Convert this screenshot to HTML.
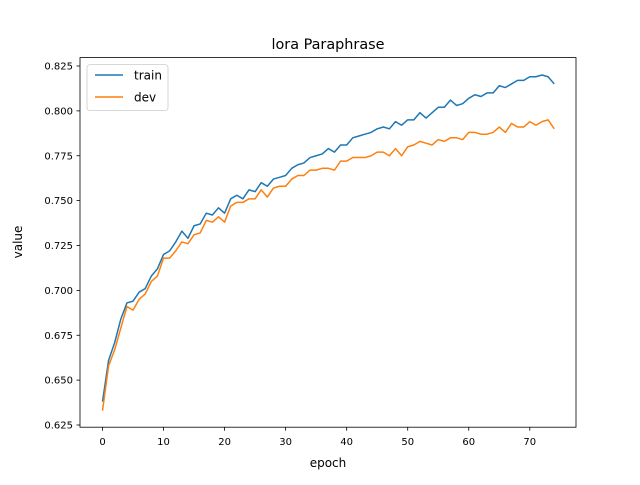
<!DOCTYPE html>
<html><head><meta charset="utf-8"><style>
body{margin:0;background:#fff;}
svg text{font-family:"DejaVu Sans","Liberation Sans",sans-serif;fill:#000;}
</style></head><body>
<svg id="chart" width="640" height="480" xmlns="http://www.w3.org/2000/svg">
<rect width="640" height="480" fill="#fff"/>
<text x="328" y="49" font-size="14.4" text-anchor="middle">lora Paraphrase</text>
<g id="axes"></g>
<g id="series"></g>
<rect x="80" y="57.6" width="496" height="369.6" fill="none" stroke="#000" stroke-width="0.8"/>
<text x="328" y="467" font-size="12" text-anchor="middle">epoch</text>
<text transform="translate(22,242) rotate(-90)" font-size="12" text-anchor="middle">value</text>
<g>
<rect x="87" y="64.6" width="81" height="46" rx="3" fill="#fff" fill-opacity="0.8" stroke="#ccc" stroke-width="0.8"/>
<g>
<line x1="95" y1="75" x2="123" y2="75" stroke="#1f77b4" stroke-width="1.5"/>
<text x="134" y="79.5" font-size="12">train</text></g>
<g>
<line x1="95" y1="97" x2="123" y2="97" stroke="#ff7f0e" stroke-width="1.5"/>
<text x="134" y="101.5" font-size="12">dev</text></g>
</g>
</svg>
<script>
const xTicks=[0,10,20,30,40,50,60,70];
const yTicks=[0.625,0.650,0.675,0.700,0.725,0.750,0.775,0.800,0.825];
const yTickLabels=["0.625","0.650","0.675","0.700","0.725","0.750","0.775","0.800","0.825"];
const train=[0.638,0.661,0.671,0.684,0.693,0.694,0.699,0.701,0.708,0.712,0.720,0.722,0.727,0.733,0.729,0.736,0.737,0.743,0.742,0.746,0.743,0.751,0.753,0.751,0.756,0.755,0.760,0.758,0.762,0.763,0.764,0.768,0.770,0.771,0.774,0.775,0.776,0.779,0.777,0.781,0.781,0.785,0.786,0.787,0.788,0.790,0.791,0.790,0.794,0.792,0.795,0.795,0.799,0.796,0.799,0.802,0.802,0.806,0.803,0.804,0.807,0.809,0.808,0.810,0.810,0.814,0.813,0.815,0.817,0.817,0.819,0.819,0.820,0.819,0.815];
const dev=[0.633,0.658,0.667,0.679,0.691,0.689,0.695,0.698,0.705,0.708,0.718,0.718,0.722,0.727,0.726,0.731,0.732,0.739,0.738,0.741,0.738,0.747,0.749,0.749,0.751,0.751,0.756,0.752,0.757,0.758,0.758,0.762,0.764,0.764,0.767,0.767,0.768,0.768,0.767,0.772,0.772,0.774,0.774,0.774,0.775,0.777,0.777,0.775,0.779,0.775,0.780,0.781,0.783,0.782,0.781,0.784,0.783,0.785,0.785,0.784,0.788,0.788,0.787,0.787,0.788,0.791,0.788,0.793,0.791,0.791,0.794,0.792,0.794,0.795,0.790];
const NS="http://www.w3.org/2000/svg";
function xs(v){return 102.5+v*(529.8-102.5)/70;}
function ys(v){return 425-(v-0.625)*(425-66)/0.2;}
const axes=document.getElementById('axes');
xTicks.forEach(t=>{
 const l=document.createElementNS(NS,'line');
 l.setAttribute('x1',xs(t));l.setAttribute('x2',xs(t));l.setAttribute('y1',427.2);l.setAttribute('y2',430.7);
 l.setAttribute('stroke','#000');l.setAttribute('stroke-width','0.8');
 
 
 axes.appendChild(l);
 const tx=document.createElementNS(NS,'text');
 tx.setAttribute('x',xs(t));tx.setAttribute('y',445);tx.setAttribute('font-size','10');tx.setAttribute('text-anchor','middle');
 tx.textContent=t;
 
 
 axes.appendChild(tx);
});
yTicks.forEach((t,i)=>{
 const l=document.createElementNS(NS,'line');
 l.setAttribute('x1',76.5);l.setAttribute('x2',80);l.setAttribute('y1',ys(t));l.setAttribute('y2',ys(t));
 l.setAttribute('stroke','#000');l.setAttribute('stroke-width','0.8');
 
 
 axes.appendChild(l);
 const tx=document.createElementNS(NS,'text');
 tx.setAttribute('x',73);tx.setAttribute('y',ys(t)+3.6);tx.setAttribute('font-size','10');tx.setAttribute('text-anchor','end');
 tx.textContent=yTickLabels[i];
 
 
 axes.appendChild(tx);
});
const ser=document.getElementById('series');
[[train,'#1f77b4','train-line'],[dev,'#ff7f0e','dev-line']].forEach(([d,c,n])=>{
 const p=document.createElementNS(NS,'polyline');
 p.setAttribute('points',d.map((v,i)=>xs(i).toFixed(2)+','+ys(v).toFixed(2)).join(' '));
 p.setAttribute('fill','none');p.setAttribute('stroke',c);p.setAttribute('stroke-width','1.5');p.setAttribute('stroke-linejoin','round');
 
 
 ser.appendChild(p);
});
</script>
</body></html>
